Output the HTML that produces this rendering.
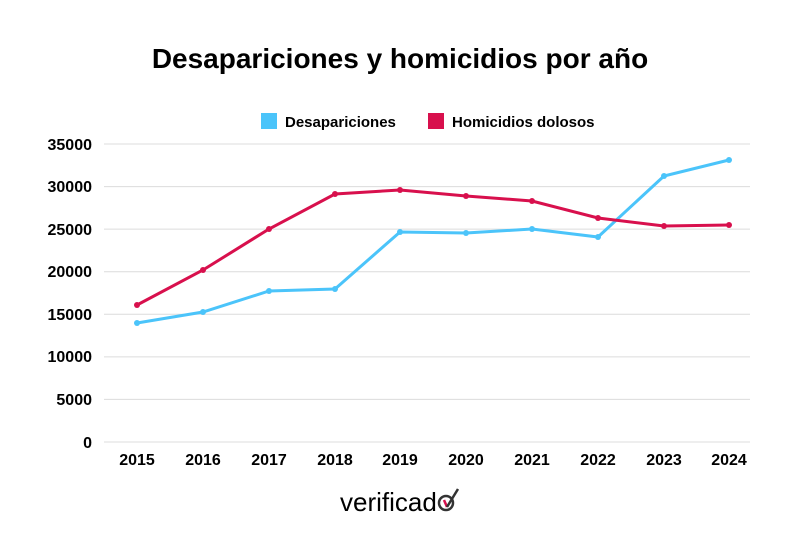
<!DOCTYPE html>
<html><head><meta charset="utf-8"><style>
body{margin:0;background:#fff;}
svg text{font-family:"Liberation Sans",sans-serif;font-weight:bold;fill:#000;}
</style></head><body>
<svg width="800" height="533" xmlns="http://www.w3.org/2000/svg">
<text x="400" y="68" font-size="28" text-anchor="middle">Desapariciones y homicidios por año</text>
<rect x="261" y="113" width="16" height="16" fill="#4bc4fa"/>
<text x="285" y="127" font-size="15">Desapariciones</text>
<rect x="428" y="113" width="16" height="16" fill="#d8104d"/>
<text x="452" y="127" font-size="15">Homicidios dolosos</text>
<g stroke="#dcdcdc" stroke-width="1">
<line x1="104" x2="750" y1="144" y2="144"/><line x1="104" x2="750" y1="186.6" y2="186.6"/>
<line x1="104" x2="750" y1="229.1" y2="229.1"/><line x1="104" x2="750" y1="271.7" y2="271.7"/>
<line x1="104" x2="750" y1="314.3" y2="314.3"/><line x1="104" x2="750" y1="356.9" y2="356.9"/>
<line x1="104" x2="750" y1="399.4" y2="399.4"/><line x1="104" x2="750" y1="442" y2="442"/>
</g>
<g font-size="16" text-anchor="end">
<text x="92" y="150">35000</text><text x="92" y="192">30000</text><text x="92" y="235">25000</text>
<text x="92" y="277">20000</text><text x="92" y="320">15000</text><text x="92" y="362">10000</text>
<text x="92" y="405">5000</text><text x="92" y="448">0</text>
</g>
<g font-size="16" text-anchor="middle">
<text x="137" y="465">2015</text><text x="203" y="465">2016</text><text x="269" y="465">2017</text>
<text x="335" y="465">2018</text><text x="400" y="465">2019</text><text x="466" y="465">2020</text>
<text x="532" y="465">2021</text><text x="598" y="465">2022</text><text x="664" y="465">2023</text>
<text x="729" y="465">2024</text>
</g>
<polyline fill="none" stroke="#4bc4fa" stroke-width="3" points="137,323 203,312 269,291 335,289 400,232 466,233 532,229 598,237 664,176 729,160"/>
<polyline fill="none" stroke="#d8104d" stroke-width="3" points="137,305 203,270 269,229 335,194 400,190 466,196 532,201 598,218 664,226 729,225"/>
<g fill="#4bc4fa"><circle cx="137" cy="323" r="3"/><circle cx="203" cy="312" r="3"/><circle cx="269" cy="291" r="3"/><circle cx="335" cy="289" r="3"/><circle cx="400" cy="232" r="3"/><circle cx="466" cy="233" r="3"/><circle cx="532" cy="229" r="3"/><circle cx="598" cy="237" r="3"/><circle cx="664" cy="176" r="3"/><circle cx="729" cy="160" r="3"/></g>
<g fill="#d8104d"><circle cx="137" cy="305" r="3"/><circle cx="203" cy="270" r="3"/><circle cx="269" cy="229" r="3"/><circle cx="335" cy="194" r="3"/><circle cx="400" cy="190" r="3"/><circle cx="466" cy="196" r="3"/><circle cx="532" cy="201" r="3"/><circle cx="598" cy="218" r="3"/><circle cx="664" cy="226" r="3"/><circle cx="729" cy="225" r="3"/></g>
<text x="340" y="511" font-size="26" style="font-weight:normal" fill="#333">verificad</text>
<circle cx="446" cy="503" r="7" fill="none" stroke="#333" stroke-width="2.5"/>
<line x1="444" y1="500" x2="447" y2="507" stroke="#d8104d" stroke-width="2.5"/>
<line x1="447" y1="507" x2="458" y2="489" stroke="#333" stroke-width="2.5"/>
</svg>
</body></html>
